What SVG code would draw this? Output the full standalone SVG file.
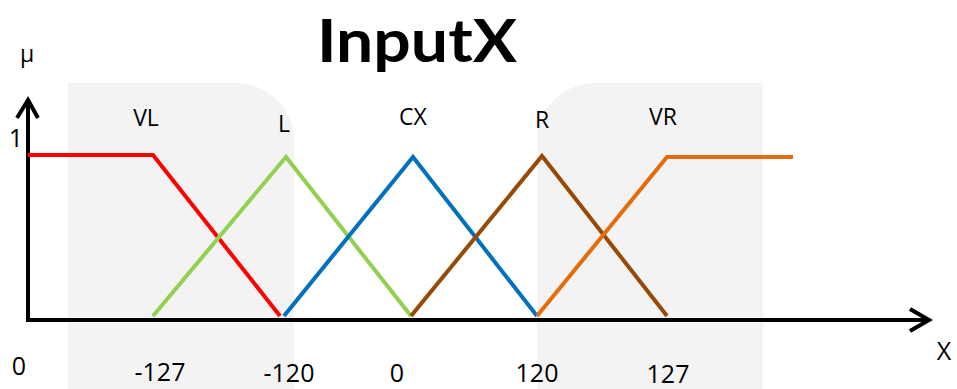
<svg xmlns="http://www.w3.org/2000/svg" width="957" height="389" viewBox="0 0 957 389">
<style>
.lbl{font-family:"Open Sans","Liberation Sans",sans-serif;font-size:23px;fill:#000;text-anchor:middle}
.num{font-family:"Open Sans","Liberation Sans",sans-serif;font-size:25px;fill:#000;text-anchor:middle}
.mf{fill:none;stroke-width:4;stroke-linejoin:miter}
.axis{fill:none;stroke:#000;stroke-width:4}
</style>
<rect width="957" height="389" fill="#fff"/>
<g id="watermark" fill="#f3f3f3">
<path d="M68 389 V83 H236 A58 58 0 0 1 294 141 V389 Z"/>
<path d="M537 389 V141 A58 58 0 0 1 595 83 H763 V389 Z"/>
</g>
<text x="417" y="62" textLength="200" lengthAdjust="spacingAndGlyphs" style="font-family:Lato,'Open Sans',sans-serif;font-weight:bold;font-size:60px;text-anchor:middle">InputX</text>
<g id="axes">
<path class="axis" d="M28 100 V320 H930"/>
<path class="axis" d="M17 118 L28 100 L38 118" stroke-linejoin="miter"/>
<path class="axis" d="M910 309 L929 320 L910 331"/>
</g>
<g id="VL"><path class="mf" stroke="#ff0000" d="M28 155 H153 L280 316"/></g>
<g id="Lmf"><path class="mf" stroke="#92d050" d="M153 316 L286 157 L411 316"/></g>
<g id="CXmf"><path class="mf" stroke="#0070c0" d="M284 316 L413 157 L537 316"/></g>
<g id="Rmf"><path class="mf" stroke="#984807" d="M411 316 L542 156 L667 316"/></g>
<g id="VRmf"><path class="mf" stroke="#e46c0a" d="M537 316 L667 157 H793"/></g>
<g id="labels">
<text class="lbl" x="27" y="62">μ</text>
<text class="lbl" x="146" y="126">VL</text>
<text class="lbl" x="284" y="132">L</text>
<text class="lbl" x="413" y="125">CX</text>
<text class="lbl" x="542" y="128">R</text>
<text class="lbl" x="663" y="125">VR</text>
<text class="num" x="16" y="147">1</text>
<text class="num" x="19" y="375">0</text>
<text class="num" x="160" y="381">-127</text>
<text class="num" x="289" y="382">-120</text>
<text class="num" x="397" y="382">0</text>
<text class="num" x="537" y="382">120</text>
<text class="num" x="668" y="383">127</text>
<text class="num" x="944" y="360">X</text>
</g>
</svg>
